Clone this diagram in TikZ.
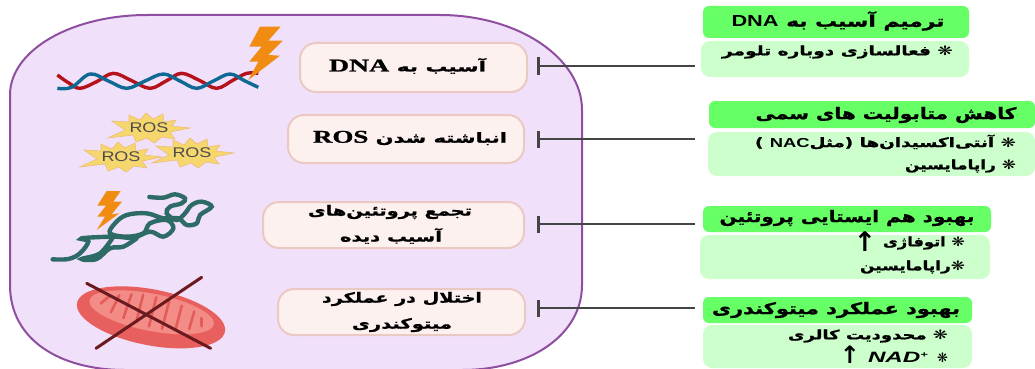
\documentclass[tikz,border=0pt]{standalone}
\usepackage{fontspec}
\usepackage{graphicx}
\usetikzlibrary{arrows.meta}
\TeXXeTstate=1
\newfontfamily\fab[Script=Arabic,BoldFeatures={FakeBold=1}]{DejaVu Sans}
\newfontfamily\labf{Liberation Sans}
\newfontfamily\dnaf[BoldFeatures={FakeBold=1}]{Liberation Serif}
\newfontfamily\symf{DejaVu Sans}
\newcommand{\fw}[3]{\resizebox{#1pt}{\height}{\fontsize{#2}{#2}\selectfont\fab\bfseries #3}}
\newcommand{\latin}[1]{\beginL{\labf\bfseries #1}\endL{}}
\newcommand{\ltser}[1]{\beginL{\fontsize{18}{18}\selectfont\dnaf\bfseries #1}\endL{}}
\newcommand{\bul}{{\symf\bfseries ❋}}
\newcommand{\roslabel}{\resizebox{39pt}{\height}{ROS}}
\definecolor{cellfill}{HTML}{F1E0FA}
\definecolor{cellline}{HTML}{8E4FA0}
\definecolor{redfill}{HTML}{FDF1EF}
\definecolor{redline}{HTML}{EBC9C3}
\definecolor{headgreen}{HTML}{66FF66}
\definecolor{lightgreen}{HTML}{CCFFCC}
\definecolor{bolt}{HTML}{F08C12}
\definecolor{starfill}{HTML}{F5D76E}
\definecolor{starline}{HTML}{EDBE78}
\definecolor{prot}{HTML}{2E6B66}
\definecolor{xred}{HTML}{6B1A1F}
\definecolor{barc}{HTML}{454545}
\definecolor{dnared}{HTML}{B5121B}
\definecolor{dnablue}{HTML}{0E6A94}
\definecolor{mitoa}{HTML}{E8605E}
\definecolor{mitob}{HTML}{F38C86}
\definecolor{mitoc}{HTML}{E25C5A}
\tikzset{
 x=1pt,y=-1pt,
 redbox/.style={draw=redline,fill=redfill,line width=2pt,rounded corners=16pt},
 headbox/.style={fill=headgreen,rounded corners=6pt,inner sep=0pt},
 subbox/.style={fill=lightgreen,rounded corners=9pt,inner sep=0pt},
 txt/.style={inner sep=0pt,outer sep=0pt,text=black},
 inhib/.style={draw=barc,line width=1.4pt,{Bar[width=17pt,line width=3pt]}-},
 rosstar/.style={fill=starfill,draw=starline,line width=0.6pt},
 roslab/.style={inner sep=0pt,text=black!70,font=\labf\fontsize{14}{15}\selectfont},
 pics/burst/.style={code={
  \path[rosstar] (42,0)--(22,4)--(27,11)--(14,9)--(6,15)--(-1,10)--(-12,14)--(-15,7)--(-40,10)--(-23,2)--(-36,-7)--(-19,-6)--(-19,-13)--(-8,-8)--(-2,-15)--(5,-9)--(15,-14)--(16,-6)--(28,-8)--(24,-2)--cycle;
 }}
}
\begin{document}
\begin{tikzpicture}
\useasboundingbox (0,0) rectangle (1035,369);
\fill[white] (0,0) rectangle (1035,369);
% cell
\draw[cellline,fill=cellfill,line width=2pt]
 (10,95) .. controls (10,50) and (72,15) .. (147,15) -- (440,15)
 .. controls (518,15) and (582,58) .. (582,110) -- (582,285)
 .. controls (582,335) and (530,370) .. (462,370) -- (125,370)
 .. controls (60,370) and (10,340) .. (10,285) -- cycle;
% DNA
\begin{scope}[scale=1/3,line width=3.4pt]
 \draw[dnared] plot[smooth,tension=.6] coordinates {(172,225)(205,248)(240,265)(290,245)(340,220)(395,242)(450,265)(500,242)(545,220)(600,242)(650,265)(700,240)(740,220)(775,220)};
 \draw[dnablue] plot[smooth,tension=.6] coordinates {(172,265)(215,262)(270,222)(325,243)(380,265)(435,243)(490,222)(540,243)(590,265)(640,243)(690,222)(735,243)(775,262)};
 \fill[bolt] (780,80)--(842,80)--(805,122)--(848,122)--(805,165)--(840,167)--(745,240)--(775,185)--(748,185)--(785,140)--(748,140)--cycle;
\end{scope}
% ROS
\pic at (148,128) {burst};
\pic at (120,157) {burst};
\pic at (192,153) {burst};
\node[roslab] (ros1) at (149,128) {\roslabel};
\node[roslab] (ros2) at (121,157) {\roslabel};
\node[roslab] (ros3) at (192,153) {\roslabel};
% protein
\begin{scope}[shift={(0,185)},scale=1/3]
 \fill[bolt] (320,18)--(362,18)--(340,50)--(366,50)--(335,88)--(358,85)--(290,135)--(315,95)--(292,95)--(318,62)--(292,62)--cycle;
 \draw[prot,line width=4.4pt,line cap=round] plot[smooth,tension=.6] coordinates {(448,36)(490,38)(525,28)(555,40)(545,55)(510,65)(500,85)(530,105)(555,85)(575,60)(605,50)(635,65)(600,90)(590,115)(560,120)(535,100)(490,100)(440,85)(380,90)(345,115)(330,145)(380,155)(430,145)(450,115)(500,105)(520,130)(490,155)(450,140)(400,158)(340,155)(245,160)(265,170)(240,205)(205,222)(158,223)};
 \draw[prot,line width=4.4pt,line cap=round] plot[smooth,tension=.6] coordinates {(340,155)(300,205)(245,222)(290,222)(330,190)(370,185)(410,160)};
\end{scope}
% mitochondrion
\begin{scope}[shift={(0,185)},scale=1/3]
 \fill[rotate around={-11:(453,397)},mitoa] (453,397) ellipse [x radius=226,y radius=84];
 \fill[rotate around={-11:(455,382)},mitob] (455,382) ellipse [x radius=190,y radius=56];
 \draw[rotate around={-11:(455,382)},mitoc,line width=2.6pt,line cap=round]
  (300,385)--(320,360) (335,405)--(350,350) (375,415)--(385,340) (415,420)--(420,335) (455,425)--(460,335) (495,425)--(500,340) (535,420)--(540,345) (575,410)--(580,355) (610,395)--(605,370);
 \draw[xred,line width=3pt,line cap=round] (260,295)--(632,490);
 \draw[xred,line width=3pt,line cap=round] (605,277)--(288,490);
\end{scope}
% left boxes
\node[redbox,minimum width=227pt,minimum height=49pt] (r1) at (413.5,67.5) {};
\node[redbox,minimum width=236pt,minimum height=48pt] (r2) at (406,139) {};
\node[redbox,minimum width=261pt,minimum height=46pt] (r3) at (393.5,225) {};
\node[redbox,minimum width=247pt,minimum height=46pt] (r4) at (401.5,312) {};
\node[txt] (r1t) at (407.5,66) {\fw{157}{14}{\beginR آسیب به \ltser{DNA}\endR}};
\node[txt] (r2t) at (410,138) {\fw{194}{14}{\beginR انباشته شدن \ltser{ROS}\endR}};
\node[txt] (r3a) at (390,212) {\fw{164}{14}{\beginR تجمع پروتئین‌های\endR}};
\node[txt] (r3b) at (391,236) {\fw{102}{14}{\beginR آسیب دیده\endR}};
\node[txt] (r4a) at (402,299) {\fw{160}{14}{\beginR اختلال در عملکرد\endR}};
\node[txt] (r4b) at (402,325) {\fw{100}{14}{\beginR میتوکندری\endR}};
% right boxes
\node[headbox,minimum width=266pt,minimum height=32pt] (h1) at (836,22) {};
\node[subbox,minimum width=268pt,minimum height=36pt] (s1) at (835,59) {};
\node[headbox,minimum width=326pt,minimum height=27pt] (h2) at (872,114.5) {};
\node[subbox,minimum width=327pt,minimum height=44pt] (s2) at (871.5,154) {};
\node[headbox,minimum width=288pt,minimum height=26pt] (h3) at (847,219) {};
\node[subbox,minimum width=290pt,minimum height=44pt] (s3) at (845,257) {};
\node[headbox,minimum width=269pt,minimum height=26pt] (h4) at (837.5,310) {};
\node[subbox,minimum width=269pt,minimum height=43pt] (s4) at (837.5,346.5) {};
\node[txt] (h1t) at (838,21) {\fw{213}{16}{\beginR ترمیم آسیب به \latin{DNA}\endR}};
\node[txt] (h2t) at (886,115) {\fw{261}{16}{\beginR کاهش متابولیت های سمی\endR}};
\node[txt] (h3t) at (847,218) {\fw{255}{16}{\beginR بهبود هم ایستایی پروتئین\endR}};
\node[txt] (h4t) at (836,310) {\fw{248}{16}{\beginR بهبود عملکرد میتوکندری\endR}};
\node[txt,anchor=east] (s1a) at (953,52) {\fw{231}{13}{\beginR\bul{} فعالسازی دوباره تلومر\endR}};
\node[txt,anchor=east] (s2a) at (1016,142) {\fw{261}{13}{\beginR\bul{} آنتی‌اکسیدان‌ها (مثل\latin{NAC} )\endR}};
\node[txt,anchor=east] (s2b) at (1016,166) {\fw{111}{13}{\beginR\bul{} راپامایسین\endR}};
\node[txt,anchor=east] (s3a) at (965,243) {\fw{82}{13}{\beginR\bul{} اتوفاژی\endR}};
\node[txt,anchor=east] (s3b) at (965,267) {\fw{105}{13}{\beginR\bul{}راپامایسین\endR}};
\node[txt,anchor=east] (s4a) at (948,336) {\fw{160}{13}{\beginR\bul{} محدودیت کالری\endR}};
\node[txt,anchor=east] (s4b) at (948,358) {\fontsize{13}{13}\selectfont\bul};
\node[txt,anchor=east] (s4c) at (928,357) {\resizebox{60pt}{\height}{\fontsize{15}{15}\selectfont\labf\bfseries\itshape NAD\raisebox{5pt}{\fontsize{8}{8}\selectfont +}}};
\node[txt] (ar3) at (865,242) {\fontsize{27}{27}\selectfont\symf\bfseries ↑};
\node[txt] (ar4) at (850,355) {\fontsize{24}{24}\selectfont\symf\bfseries ↑};
% connectors
\coordinate (a1) at (537,66); \coordinate (b1) at (695,66);
\coordinate (a2) at (537,139); \coordinate (b2) at (695,139);
\coordinate (a3) at (537,224); \coordinate (b3) at (695,224);
\coordinate (a4) at (537,308); \coordinate (b4) at (695,308);
\draw[inhib] (a1)--(b1);
\draw[inhib] (a2)--(b2);
\draw[inhib] (a3)--(b3);
\draw[inhib] (a4)--(b4);
\end{tikzpicture}
\end{document}
